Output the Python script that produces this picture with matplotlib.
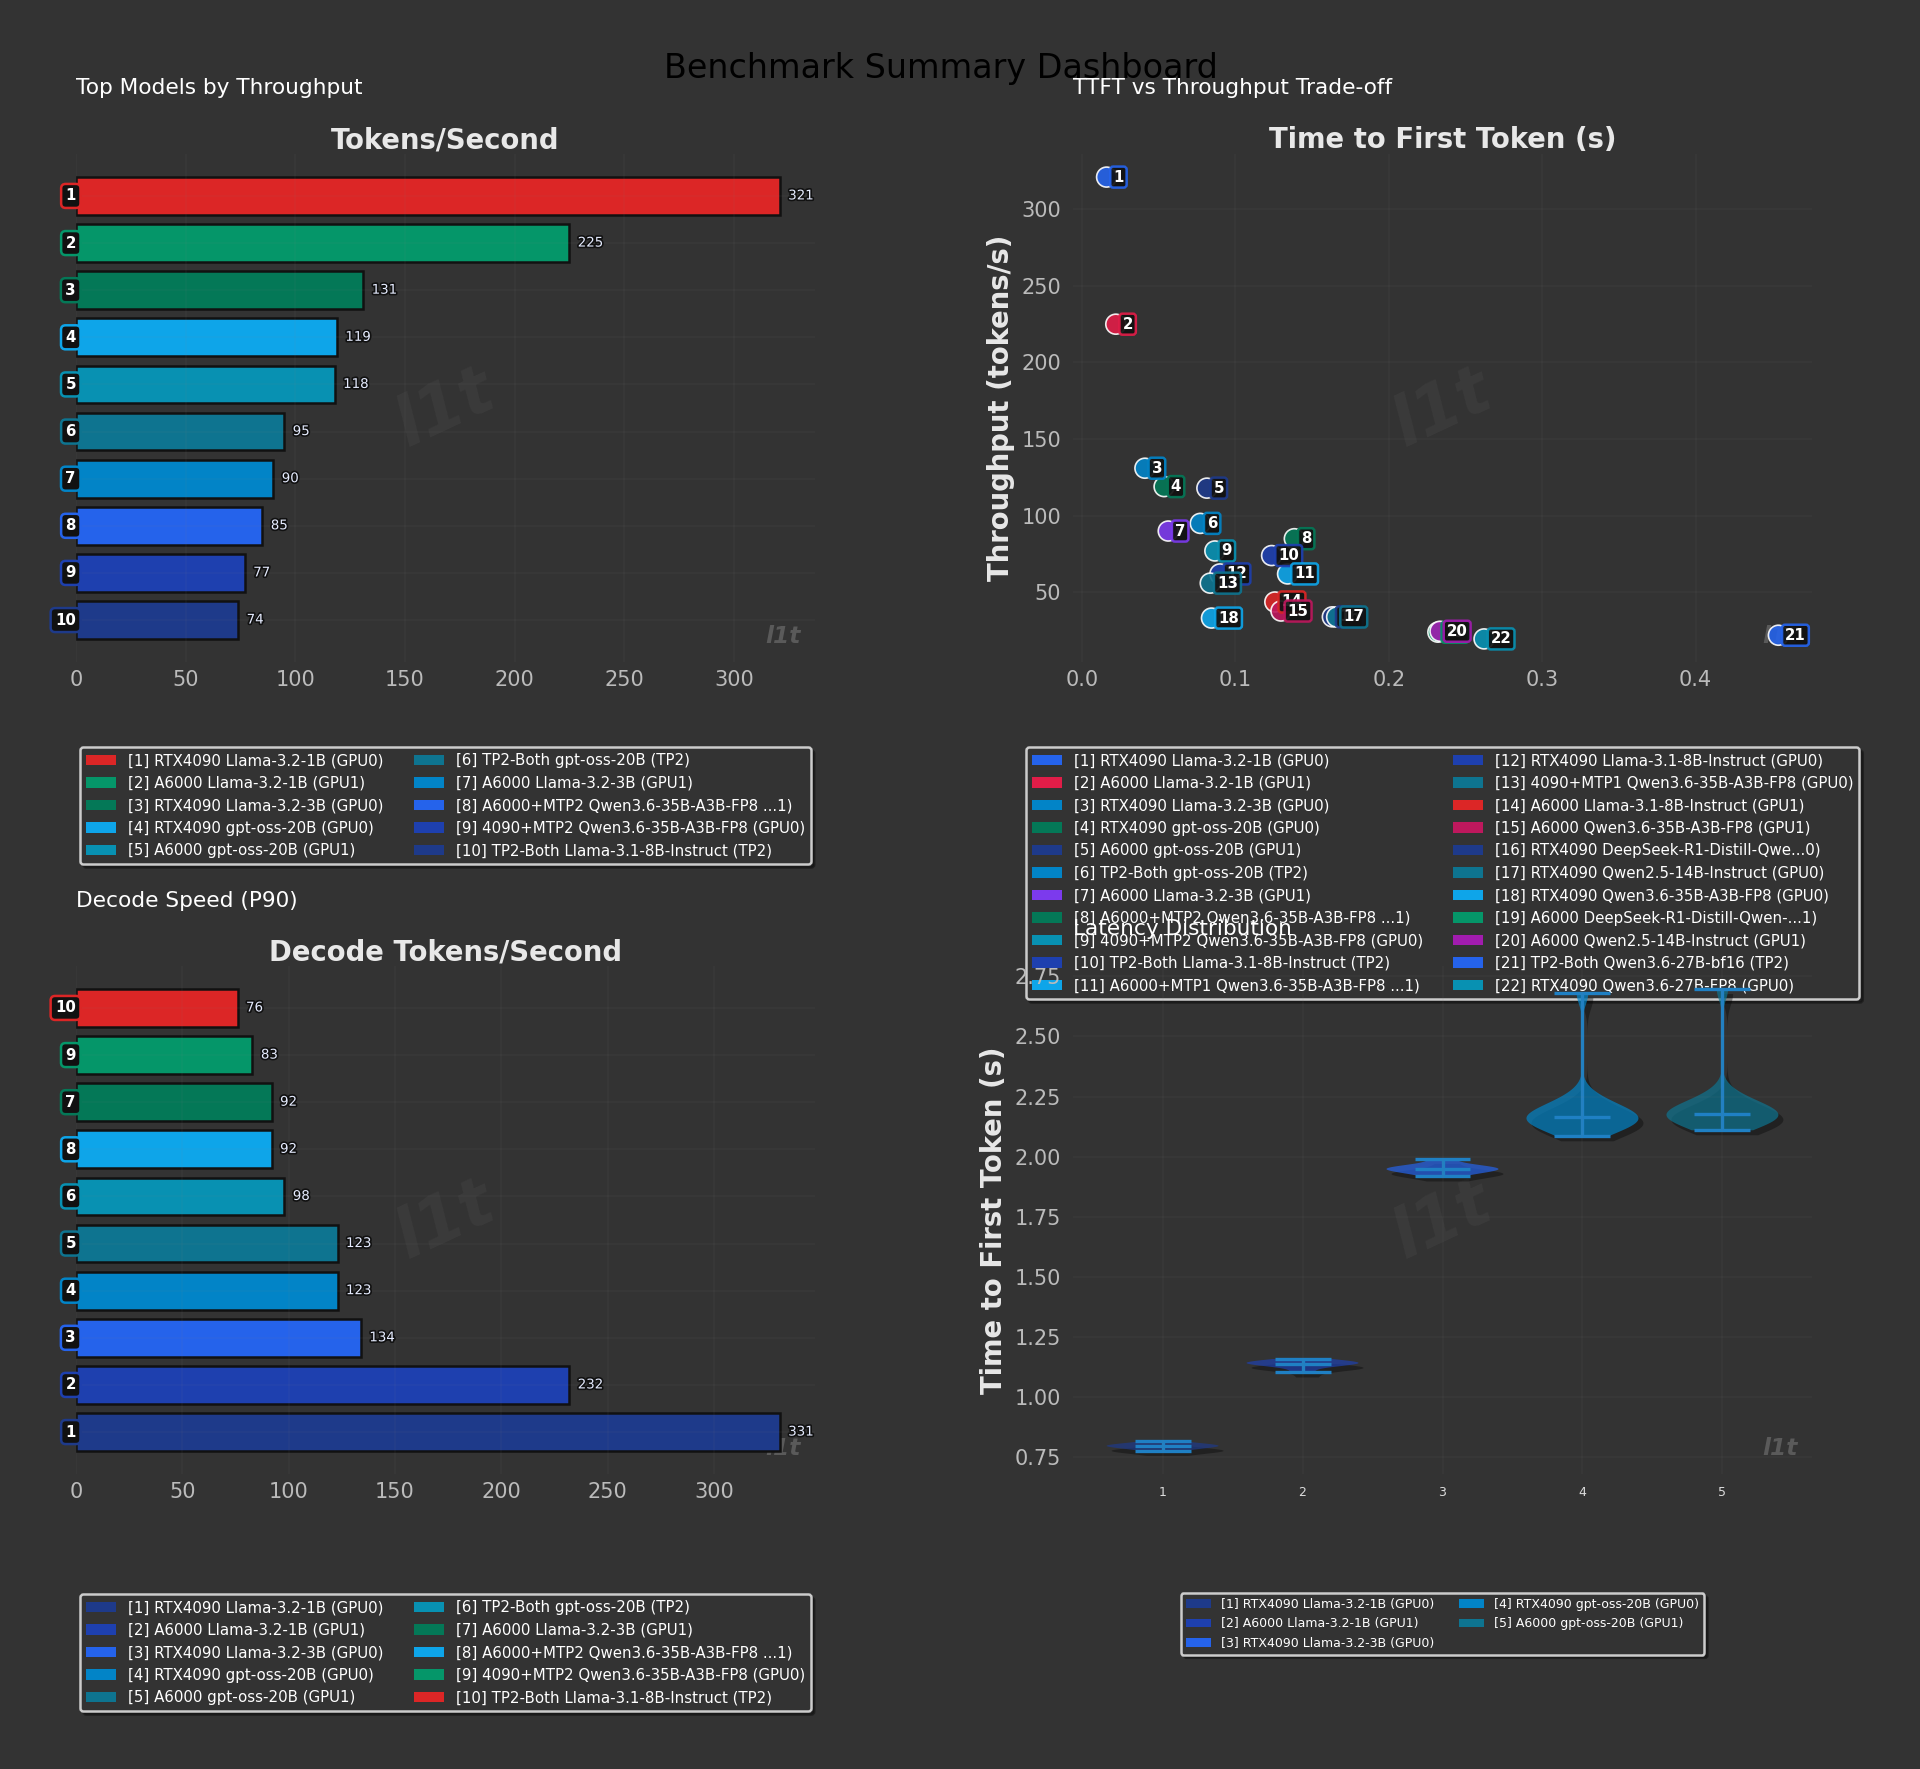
import matplotlib
matplotlib.use('Agg')
import matplotlib.pyplot as plt
import matplotlib.patheffects as pe
from matplotlib.patches import Patch

BG = '#333333'
TICK = '#bbbbbb'

# --- Top Models by Throughput (rank order, top to bottom)
top_names = ['RTX4090 Llama-3.2-1B (GPU0)', 'A6000 Llama-3.2-1B (GPU1)',
             'RTX4090 Llama-3.2-3B (GPU0)', 'RTX4090 gpt-oss-20B (GPU0)',
             'A6000 gpt-oss-20B (GPU1)', 'TP2-Both gpt-oss-20B (TP2)',
             'A6000 Llama-3.2-3B (GPU1)', 'A6000+MTP2 Qwen3.6-35B-A3B-FP8 ...1)',
             '4090+MTP2 Qwen3.6-35B-A3B-FP8 (GPU0)', 'TP2-Both Llama-3.1-8B-Instruct (TP2)']
top_vals = [321, 225, 131, 119, 118, 95, 90, 85, 77, 74]
bar_palette = ['#dc2626', '#059669', '#047857', '#0ea5e9', '#0891b2',
               '#0e7490', '#0284c7', '#2563eb', '#1e40af', '#1e3a8a']

# --- Decode speed (P90), bars top to bottom
decode_rank = [10, 9, 7, 8, 6, 5, 4, 3, 2, 1]
decode_vals = [76, 83, 92, 92, 98, 123, 123, 134, 232, 331]
decode_names = top_names  # names listed by rank 1..10

# --- TTFT vs throughput
scatter_names = ['RTX4090 Llama-3.2-1B (GPU0)', 'A6000 Llama-3.2-1B (GPU1)',
                 'RTX4090 Llama-3.2-3B (GPU0)', 'RTX4090 gpt-oss-20B (GPU0)',
                 'A6000 gpt-oss-20B (GPU1)', 'TP2-Both gpt-oss-20B (TP2)',
                 'A6000 Llama-3.2-3B (GPU1)', 'A6000+MTP2 Qwen3.6-35B-A3B-FP8 ...1)',
                 '4090+MTP2 Qwen3.6-35B-A3B-FP8 (GPU0)', 'TP2-Both Llama-3.1-8B-Instruct (TP2)',
                 'A6000+MTP1 Qwen3.6-35B-A3B-FP8 ...1)', 'RTX4090 Llama-3.1-8B-Instruct (GPU0)',
                 '4090+MTP1 Qwen3.6-35B-A3B-FP8 (GPU0)', 'A6000 Llama-3.1-8B-Instruct (GPU1)',
                 'A6000 Qwen3.6-35B-A3B-FP8 (GPU1)', 'RTX4090 DeepSeek-R1-Distill-Qwe...0)',
                 'RTX4090 Qwen2.5-14B-Instruct (GPU0)', 'RTX4090 Qwen3.6-35B-A3B-FP8 (GPU0)',
                 'A6000 DeepSeek-R1-Distill-Qwen-...1)', 'A6000 Qwen2.5-14B-Instruct (GPU1)',
                 'TP2-Both Qwen3.6-27B-bf16 (TP2)', 'RTX4090 Qwen3.6-27B-FP8 (GPU0)']
ttft = [0.016, 0.022, 0.041, 0.0535, 0.0814, 0.0771, 0.0562, 0.1384, 0.0866, 0.1236, 0.134,
        0.0899, 0.0836, 0.1257, 0.1297, 0.1632, 0.166, 0.0844, 0.232, 0.2334, 0.454, 0.2621]
tput = [321, 225, 131, 119, 118, 95, 90, 85, 77, 74, 62,
        62, 56, 43.7, 37.8, 34, 33.9, 33.2, 24, 24.6, 22, 19.6]
scatter_colors = ['#2563eb', '#e11d48', '#0284c7', '#047857', '#1e3a8a', '#0284c7',
                  '#7c3aed', '#047857', '#0891b2', '#1e40af', '#0ea5e9', '#1e40af',
                  '#0e7490', '#dc2626', '#be185d', '#1e3a8a', '#0e7490', '#0ea5e9',
                  '#059669', '#a21caf', '#2563eb', '#0891b2']

# --- Latency distribution (TTFT samples, seconds)
violin_names = ['RTX4090 Llama-3.2-1B (GPU0)', 'A6000 Llama-3.2-1B (GPU1)',
                'RTX4090 Llama-3.2-3B (GPU0)', 'RTX4090 gpt-oss-20B (GPU0)',
                'A6000 gpt-oss-20B (GPU1)']
violin_colors = ['#1e3a8a', '#1e40af', '#2563eb', '#0284c7', '#0e7490']
lat_1 = [0.777, 0.786, 0.791, 0.795, 0.798, 0.801, 0.804, 0.809, 0.820]
lat_2 = [1.103, 1.124, 1.134, 1.139, 1.140, 1.144, 1.147, 1.151, 1.159]
lat_3 = [1.918, 1.932, 1.940, 1.946, 1.950, 1.953, 1.957, 1.966, 1.991]
lat_4 = [2.085, 2.115, 2.13, 2.138, 2.145, 2.152, 2.162, 2.168, 2.175, 2.185, 2.20, 2.22,
         2.25, 2.681]
lat_5 = [2.110, 2.13, 2.145, 2.155, 2.163, 2.17, 2.175, 2.18, 2.188, 2.197, 2.21, 2.23,
         2.26, 2.697]


def style_axes(ax):
    ax.set_facecolor('none')
    for s in ax.spines.values():
        s.set_visible(False)
    ax.tick_params(colors=TICK, labelsize=12.5, length=0)
    ax.tick_params(axis='x', pad=5)
    ax.tick_params(axis='y', pad=7)
    ax.grid(True, color='#888888', alpha=0.06, lw=1)
    ax.set_axisbelow(False)
    ax.text(0.5, 0.5, 'l1t', transform=ax.transAxes, fontsize=40, fontweight='bold',
            style='italic', color='white', alpha=0.04, rotation=25,
            ha='center', va='center', zorder=0)
    ax.text(0.98, 0.05, 'l1t', transform=ax.transAxes, fontsize=14, fontweight='bold',
            style='italic', color='#5a5a5a', ha='right', va='center', zorder=1)


def top_label(ax, text):
    ax.xaxis.set_label_position('top')
    ax.set_xlabel(text, fontsize=16.5, fontweight='bold', color='#e8e8e8', labelpad=3.5)


def add_legend(ax, labels, colors, y, size=9):
    handles = [Patch(facecolor=c, label=l) for l, c in zip(labels, colors)]
    leg = ax.legend(handles=handles, loc='upper center', bbox_to_anchor=(0.5, y), ncol=2,
                    fontsize=size, facecolor=BG, edgecolor='#cccccc', labelcolor='white',
                    shadow=True, framealpha=1)
    leg.get_frame().set_linewidth(1.5)
    return leg


def bar_panel(ax, ranks, vals, colors):
    pos = list(range(len(vals)))
    ax.barh(pos, vals, height=0.8, color=colors, edgecolor='#111111', linewidth=1.5)
    ax.invert_yaxis()
    ax.set_yticks(pos)
    ax.set_yticklabels([])
    ax.set_xlim(0, max(vals) * 1.05)
    for p, r, v, c in zip(pos, ranks, vals, colors):
        ax.text(0, p, str(r), ha='right', va='center', fontsize=9, fontweight='bold',
                color='white', zorder=5,
                bbox=dict(boxstyle='round,pad=0.3', fc='#111111', ec=c, lw=1.5))
        ax.text(v + max(vals) * 0.012, p, f'{v:.0f}', ha='left', va='center', fontsize=8,
                color='#e6ecff', zorder=5,
                path_effects=[pe.withStroke(linewidth=2, foreground='#111111')])


fig = plt.figure(figsize=(16, 1769 / 120), dpi=120, facecolor=BG)
W, H = 1920, 1769


def box(l, t, r, b):
    return [l / W, 1 - b / H, (r - l) / W, (b - t) / H]


ax1 = fig.add_axes(box(76, 154, 815, 662))
ax2 = fig.add_axes(box(1073, 154, 1812, 662))
ax3 = fig.add_axes(box(76, 966, 815, 1474))
ax4 = fig.add_axes(box(1073, 966, 1812, 1474))
for a in (ax1, ax2, ax3, ax4):
    style_axes(a)

# Top Models by Throughput
bar_panel(ax1, list(range(1, 11)), top_vals, bar_palette)
top_label(ax1, 'Tokens/Second')
ax1.set_title('Top Models by Throughput', loc='left', y=1.13, pad=0, va='center',
              fontsize=13, color='white')
add_legend(ax1, [f'[{i + 1}] {n}' for i, n in enumerate(top_names)], bar_palette, -0.153)

# TTFT vs Throughput
ax2.scatter(ttft, tput, s=144, c=scatter_colors, edgecolors='white', linewidths=1.0,
            alpha=0.9, zorder=3)
for i, (x, y, c) in enumerate(zip(ttft, tput, scatter_colors)):
    ax2.annotate(str(i + 1), (x, y), xytext=(4, 0), textcoords='offset points',
                 ha='left', va='center', fontsize=9, fontweight='bold', color='white',
                 zorder=4,
                 bbox=dict(boxstyle='round,pad=0.2', fc='#111111', ec=c, lw=1.5, alpha=0.92))
top_label(ax2, 'Time to First Token (s)')
ax2.set_ylabel('Throughput (tokens/s)', fontsize=16.5, fontweight='bold', color='#e8e8e8')
ax2.set_title('TTFT vs Throughput Trade-off', loc='left', y=1.13, pad=0, va='center',
              fontsize=13, color='white')
add_legend(ax2, [f'[{i + 1}] {n}' for i, n in enumerate(scatter_names)], scatter_colors, -0.153)

# Decode Speed (P90)
bar_panel(ax3, decode_rank, decode_vals, bar_palette)
top_label(ax3, 'Decode Tokens/Second')
ax3.set_title('Decode Speed (P90)', loc='left', y=1.127, pad=0, va='center',
              fontsize=13, color='white')
rank_color = dict(zip(decode_rank, bar_palette))
add_legend(ax3, [f'[{i + 1}] {n}' for i, n in enumerate(decode_names)],
           [rank_color[i + 1] for i in range(10)], -0.222)

# Latency Distribution
positions = [1, 2, 3, 4, 5]
vp_a = ax4.violinplot([lat_1, lat_2, lat_3], positions=positions[:3], widths=0.8,
                      showmedians=True)
vp_b = ax4.violinplot([lat_4, lat_5], positions=positions[3:], widths=0.8,
                      showmedians=True, bw_method=0.32)
bodies = vp_a['bodies'] + vp_b['bodies']
for body, c in zip(bodies, violin_colors):
    body.set_facecolor(c)
    body.set_edgecolor('none')
    body.set_alpha(0.7)
    body.set_path_effects([pe.SimplePatchShadow(offset=(3, -3), shadow_rgbFace='black',
                                                alpha=0.35), pe.Normal()])
for vp in (vp_a, vp_b):
    for key in ('cmins', 'cmaxes', 'cbars', 'cmedians'):
        vp[key].set_color('#1f80c4')
        vp[key].set_linewidth(2)
ax4.set_xticks(positions)
ax4.set_xticklabels([str(p) for p in positions])
ax4.tick_params(axis='x', labelsize=7.5, colors='#dddddd', pad=7)
ax4.set_ylabel('Time to First Token (s)', fontsize=16.5, fontweight='bold', color='#e8e8e8')
ax4.set_title('Latency Distribution', loc='left', y=1.073, pad=0, va='center',
              fontsize=13, color='white')
add_legend(ax4, [f'[{i + 1}] {n}' for i, n in enumerate(violin_names)], violin_colors,
           -0.222, size=7.5)

fig.suptitle('Benchmark Summary Dashboard', fontsize=20, color='black', x=0.49, y=0.961,
             va='center')

fig.savefig('out.png', dpi=120, facecolor=BG)
